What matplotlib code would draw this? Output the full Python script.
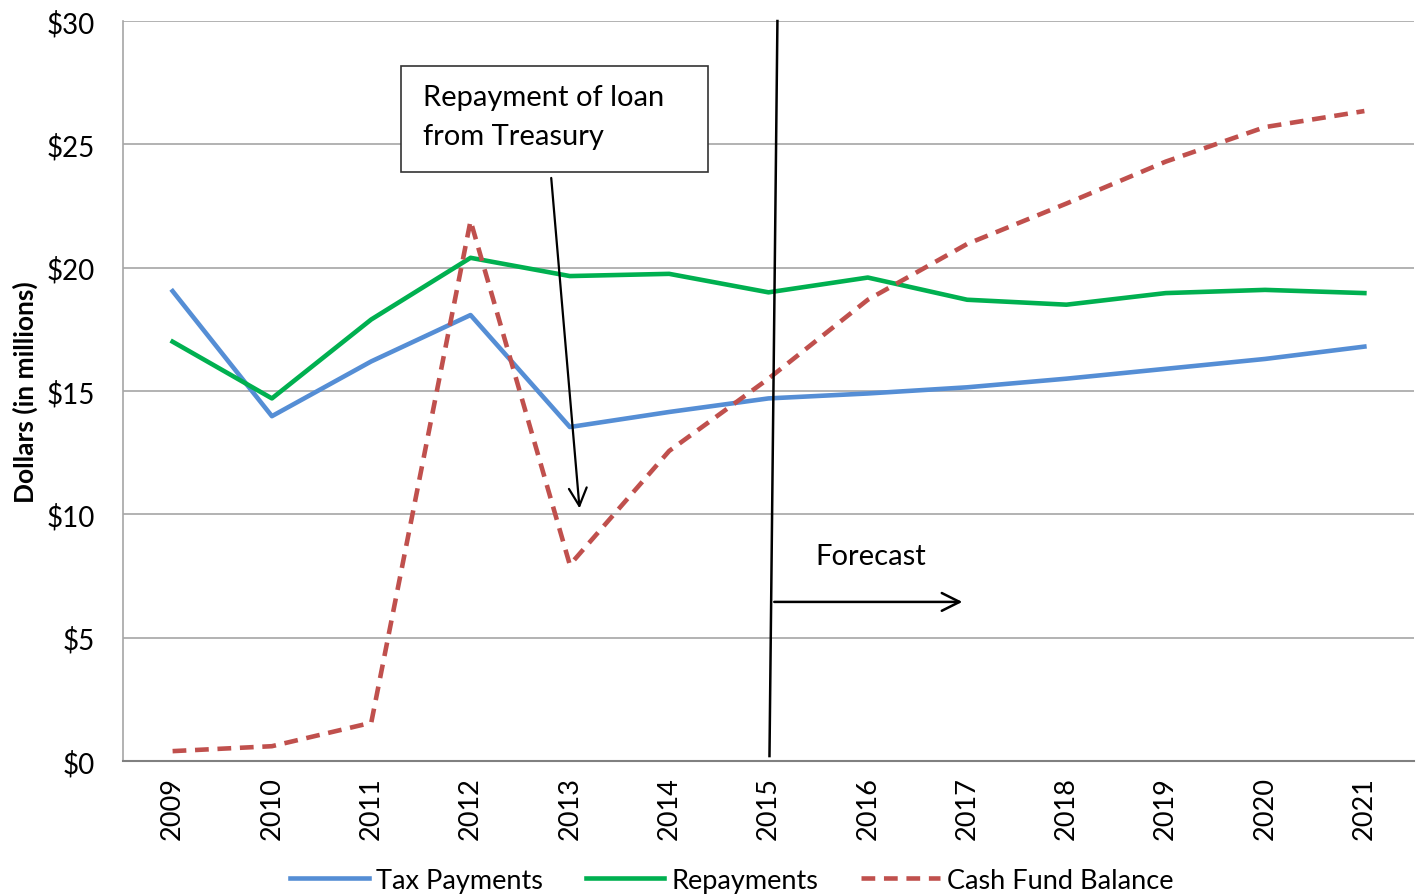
import matplotlib
matplotlib.use("Agg")
import matplotlib.pyplot as plt
from matplotlib.patches import Rectangle

plt.rcParams['font.family'] = ['Lato', 'DejaVu Sans']

years = ['2009', '2010', '2011', '2012', '2013', '2014', '2015',
         '2016', '2017', '2018', '2019', '2020', '2021']
tax_payments = [19.05, 13.98, 16.2, 18.08, 13.54, 14.15, 14.7, 14.9, 15.15, 15.5, 15.9, 16.3, 16.8]
repayments = [17.0, 14.7, 17.9, 20.4, 19.66, 19.75, 19.0, 19.6, 18.7, 18.5, 18.97, 19.1, 18.97]
cash_fund = [0.4, 0.6, 1.55, 21.9, 7.95, 12.57, 15.5, 18.7, 20.96, 22.6, 24.3, 25.7, 26.35]
yticks = [0, 5, 10, 15, 20, 25, 30]
ytick_labels = ['$0', '$5', '$10', '$15', '$20', '$25', '$30']

fig = plt.figure(figsize=(14.18, 8.95), dpi=100)
ax = fig.add_axes([0.0867, 0.1486, 0.9105, 0.8268])

x = list(range(len(years)))
ax.plot(x, tax_payments, color='#558ED5', lw=3.3, label='Tax Payments', zorder=3)
ax.plot(x, repayments, color='#00B050', lw=3.3, label='Repayments', zorder=3)
ax.plot(x, cash_fund, color='#C0504D', lw=3.3, ls=(0, (3.0, 1.9)), label='Cash Fund Balance', zorder=3)

ax.set_xlim(-0.5, len(years) - 0.5)
ax.set_ylim(0, 30)
ax.set_xticks(x)
ax.set_xticklabels(years, rotation=90, fontsize=19.5)
ax.set_yticks(yticks)
ax.set_yticklabels(ytick_labels, fontsize=20)
ax.tick_params(axis='x', length=0, pad=11)
ax.tick_params(axis='y', length=0, pad=20)
ax.grid(axis='y', color='#A6A6A6', lw=1.2)
ax.set_axisbelow(True)
for s in ['top', 'right']:
    ax.spines[s].set_visible(False)
ax.spines['left'].set_color('#A6A6A6')
ax.spines['bottom'].set_color('#808080')
ax.spines['left'].set_linewidth(1.2)
ax.spines['bottom'].set_linewidth(1.5)

ax.set_ylabel('Dollars (in millions)', fontsize=19, fontweight='bold', labelpad=6)

# forecast divider
ax.plot([6.09, 6.01], [30, 0.2], color='black', lw=1.8, zorder=4, clip_on=False)
ax.annotate('', xy=(7.98, 6.45), xytext=(6.03, 6.45),
            arrowprops=dict(arrowstyle='->', color='black', lw=1.8, mutation_scale=32), zorder=4)
ax.text(6.47, 8.3, 'Forecast', fontsize=21, va='center', ha='left')

# annotation box
ax.add_patch(Rectangle((2.296, 23.88), 3.092, 4.29, fc='white', ec='#333333', lw=1.2, zorder=5))
ax.text(2.52, 26.92, 'Repayment of loan', fontsize=21, va='center', ha='left', zorder=6)
ax.text(2.52, 25.33, 'from Treasury', fontsize=21, va='center', ha='left', zorder=6)
ax.annotate('', xy=(4.10, 10.13), xytext=(3.81, 23.75),
            arrowprops=dict(arrowstyle='->', color='black', lw=1.6, mutation_scale=32), zorder=4)

leg = fig.legend(loc='lower center', bbox_to_anchor=(0.516, -0.026), ncol=3, frameon=False,
                 fontsize=19.5, handlelength=2.9, columnspacing=1.6, handletextpad=0.25)

fig.savefig('out.png', dpi=100)
